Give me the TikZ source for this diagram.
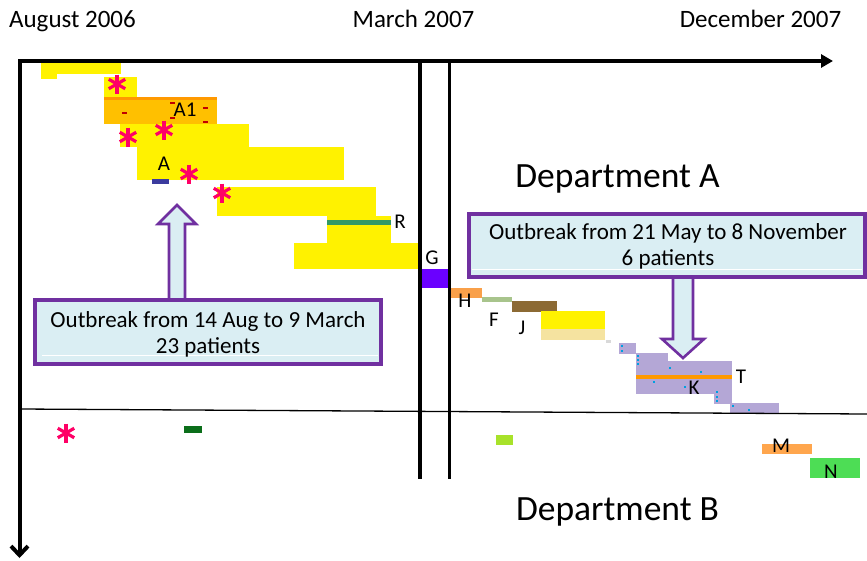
\documentclass[tikz,border=0pt]{standalone}
\usepackage{fontspec}
\setmainfont{Carlito}
\usetikzlibrary{arrows.meta}
\definecolor{ylw}{HTML}{FFF200}
\definecolor{orgA}{HTML}{FFC000}
\definecolor{orgTop}{HTML}{FF9900}
\definecolor{blueS}{HTML}{3B3B9E}
\definecolor{greenR}{HTML}{339966}
\definecolor{purG}{HTML}{6A00FF}
\definecolor{orgH}{HTML}{F9A04A}
\definecolor{grnF}{HTML}{A8C48C}
\definecolor{brnJ}{HTML}{8C6A34}
\definecolor{tan}{HTML}{F5E3A0}
\definecolor{lav}{HTML}{B4A7D6}
\definecolor{orgM}{HTML}{FFA64D}
\definecolor{grnN}{HTML}{4DDD55}
\definecolor{ygrn}{HTML}{A8E22A}
\definecolor{dgrn}{HTML}{0B6E1A}
\definecolor{astcol}{HTML}{FF0066}
\definecolor{boxfill}{HTML}{DAEEF3}
\definecolor{boxline}{HTML}{7030A0}
\definecolor{dotblue}{HTML}{00A0E0}
\definecolor{dashred}{HTML}{C00000}
\tikzset{
  axis/.style={line width=4pt},
  vline/.style={line width=3.3pt},
  lbl/.style={inner sep=0pt, anchor=base, font=\fontsize{21}{24}\selectfont},
  toplbl/.style={inner sep=0pt, anchor=base, font=\fontsize{25}{30}\selectfont},
  dept/.style={inner sep=0pt, anchor=base, font=\fontsize{35.5}{40}\selectfont},
  boxtxt/.style={inner sep=0pt, anchor=base, font=\fontsize{23}{27}\selectfont},
  callout/.style={fill=boxfill, draw=boxline, line width=3.6pt},
  calarrow/.style={fill=boxfill, draw=boxline, line width=2.6pt, line join=miter},
  ast/.pic={\foreach \a in {90,30,150}{\draw[astcol,line width=3.2pt] (\a:9.5pt) -- (\a+180:9.5pt);}},
}
\begin{document}
\begin{tikzpicture}[x=1pt,y=-1pt]
\useasboundingbox (0,0) rectangle (867,560);
% ---- Department A bars ----
\fill[ylw] (41,63) rectangle (121,74);
\fill[ylw] (41,74) rectangle (57,79);
\fill[ylw] (104,77) rectangle (137,97);
\fill[orgA] (104,97) rectangle (217,124);
\fill[orgTop] (104,97) rectangle (217,100);
\foreach \p in {(124,113),(172,103),(172,118),(205,108),(205,122)}
  \fill[dashred] \p ++(-2.5,-1) rectangle ++(5,2);
\fill[ylw] (120,124) rectangle (249,147);
\fill[ylw] (137,147) rectangle (344,180);
\fill[blueS] (152,179) rectangle (169,183.5);
\fill[ylw] (217,187) rectangle (376,216);
\fill[ylw] (327,216) rectangle (391,243);
\fill[ylw] (294,243) rectangle (420,269);
\fill[greenR] (327,220) rectangle (391,225);
\fill[purG] (420,269) rectangle (450,288);
\fill[orgH] (451,288) rectangle (482,298);
\fill[grnF] (482,297) rectangle (512,302);
\fill[brnJ] (512,301) rectangle (557,312);
\fill[ylw] (541,311) rectangle (605,329);
\fill[tan] (541,329) rectangle (605,340);
\fill[black!15] (606,340) rectangle (611,343);
\fill[lav] (619,343) rectangle (636,354);
\fill[lav] (636,353) rectangle (668,361);
\fill[lav] (636,361) rectangle (732,394);
\fill[lav] (714,394) rectangle (732,404);
\fill[lav] (730,403) rectangle (779,413);
\fill[orgTop] (636,375) rectangle (732,379);
\foreach \p in {(622,346),(622,351),(638,356),(638,360),(638,364),(670,368),(701,372),(654,382),(685,387),(717,392),(717,397),(717,401),(733,406),(749,410)}
  \fill[dotblue] \p ++(-1,-1.2) rectangle ++(2,2.4);
% ---- Department B bars ----
\fill[ygrn] (496,435) rectangle (513,445);
\fill[dgrn] (184,426) rectangle (202,433);
\fill[orgM] (762,444) rectangle (812,454);
\fill[grnN] (810,458) rectangle (860,478);
% ---- asterisks ----
\pic (s1) at (117,84) {ast};
\pic (s2) at (128,137) {ast};
\pic (s3) at (164,130) {ast};
\pic (s4) at (189,174) {ast};
\pic (s5) at (222,193) {ast};
\pic (s6) at (66,433) {ast};
% ---- axes and separators ----
\draw[axis, line join=miter, {Straight Barb[length=9pt,width=17pt]}-{Triangle[length=12pt,width=13pt]}] (19.5,558) -- (19.5,61) -- (833,61);
\draw[vline] (420,61) -- (420,479);
\draw[vline] (449.5,61) -- (449.5,479);
\draw[line width=1.3pt] (20,409) -- (867,414);
% ---- labels ----
\node[toplbl] (aug) at (72.5,27) {August 2006};
\node[toplbl] (mar) at (413.5,27) {March 2007};
\node[toplbl] (dec) at (760.5,27) {December 2007};
\node[dept] (depA) at (617.5,187) {Department A};
\node[dept] (depB) at (617.5,520) {Department B};
\node[lbl] (A1) at (185,116) {A1};
\node[lbl] (A) at (164,170) {A};
\node[lbl] (R) at (400,228) {R};
\node[lbl] (G) at (432,264) {G};
\node[lbl] (H) at (465,307) {H};
\node[lbl] (F) at (494,326) {F};
\node[lbl] (J) at (522,334) {J};
\node[lbl] (T) at (741,383) {T};
\node[lbl] (K) at (694,394) {K};
\node[lbl] (M) at (781,452) {M};
\node[lbl] (N) at (831,478) {N};
% ---- callouts ----
\draw[calarrow] (169,299) -- (169,224) -- (158,224) -- (177,205) -- (196,224) -- (185,224) -- (185,299);
\draw[callout] (35,300) rectangle (381,364);
\draw[white, line width=0.8pt] (42,355) -- (378,355);
\node[boxtxt] (b1l1) at (208,327) {Outbreak from 14 Aug to 9 March};
\node[boxtxt] (b1l2) at (208,353) {23 patients};
\draw[calarrow] (673,277) -- (673,339) -- (662,339) -- (683,358) -- (704,339) -- (693,339) -- (693,277);
\draw[callout] (469,214) rectangle (865,277);
\draw[white, line width=0.8pt] (472,269) -- (862,269);
\node[boxtxt] (b2l1) at (668,239) {Outbreak from 21 May to 8 November};
\node[boxtxt] (b2l2) at (668,265) {6 patients};
\end{tikzpicture}
\end{document}
